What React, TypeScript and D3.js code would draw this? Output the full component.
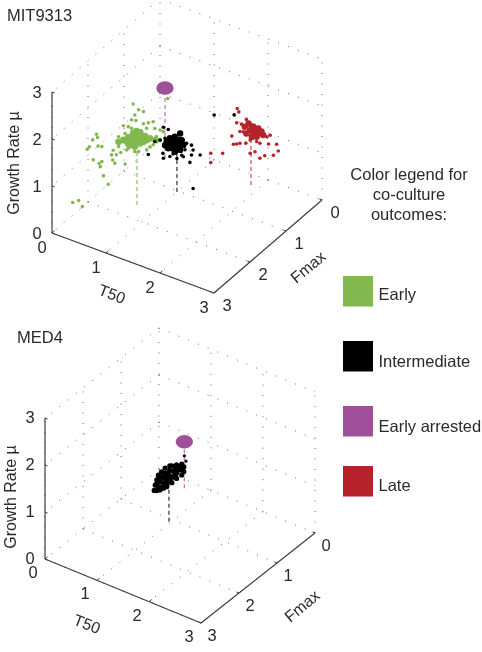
import React from "react";
import * as d3 from "d3";

const ticks = [0, 1, 2, 3];
const legendItems = ["Early", "Intermediate", "Early arrested", "Late"];
const legendColors = ["#82b84e", "#000000", "#a0509a", "#b5222a"];
const legendHeader = ["Color legend for", "co-culture", "outcomes:"];

// [T50, growth rate]; Fmax is listed per group
const earlyFarFmax = 2.5;
const earlyFar = [[.05,.34],[.16,.43],[.23,.33],[.71,1.01],[.62,1.15],[.32,1.59],[.36,1.66],[.49,1.98],[.51,1.92],[.42,1.83],[.52,1.74],[.59,1.76],[.43,1.41],[.54,1.38],[.59,1.44],[.56,1.32],[.79,1.56],[.83,1.51],[1.02,1.57],[.77,1.66],[.86,1.70]];
const earlyFmax = 1.66;
const earlyNear = [[.38,.99],[.49,1.09],[.34,1.10],[.37,1.22],[.34,1.31],[.43,1.58],[.52,1.60],[.61,2.12],[.71,2.04],[.64,1.90],[.80,2.04],[.58,1.77],[.66,1.79],[.80,1.78],[.89,1.84],[.98,1.90],[.86,1.71],[1.01,1.77],[1.11,1.78],[1.17,1.77],[1.04,1.61],[1.11,1.57],[.98,1.41],[.92,1.34],[.86,1.25],[.64,1.12],[.71,1.15],[.52,1.14],[.49,1.20],[.46,1.43],[.58,1.59],[.24,.98],[1.25,2.51]];
const earlyCore = [[.34,1.20],[.43,1.28],[.52,1.37],[.61,1.50],[.67,1.57],[.74,1.57],[.83,1.53],[.92,1.52],[1.03,1.53],[.49,1.27],[.58,1.38],[.67,1.45],[.77,1.46],[.86,1.46],[.55,1.22],[.64,1.23],[.74,1.34],[.64,1.33],[.58,1.29],[.71,1.40],[.80,1.40],[.71,1.50]];
const intermediateFmax = 1.03;
const intermediate = [[1.69,1.93],[2.06,2.09],[.47,.57],[.74,.71],[.75,.61],[1.30,.20],[1.43,.97],[1.24,.73],[1.27,.90],[1.15,.96],[1.30,1.02],[1.12,.80],[1.00,.71],[.87,.70],[.59,.90],[.69,.97],[.78,1.05],[.75,1.27],[.84,1.26],[1.27,1.11],[1.18,1.11],[1.09,.82],[.93,.78]];
const intermediateCore = [[.81,.99],[.87,1.09],[.96,1.16],[1.06,1.27],[1.09,1.14],[1.12,1.05],[1.06,.92],[.96,.84],[.84,.86],[.78,.90],[.93,.97],[.87,.98],[.99,1.03],[.93,1.08],[1.03,1.12],[.90,.89],[.99,.92],[1.06,1.02]];
const lateFmax = .255;
const late = [[1.60,1.52],[1.63,1.46],[1.11,.36],[1.11,.16],[1.33,.45],[1.50,.89],[1.53,.73],[1.59,.76],[1.65,.80],[1.76,.85],[1.84,.95],[1.96,.97],[2.02,.96],[2.18,1.01],[2.33,1.07],[2.36,.94],[2.27,.81],[2.11,.73],[2.02,.64],[1.93,.74],[1.84,.67],[2.21,1.21],[2.15,1.15],[1.59,1.21],[1.68,1.22],[1.77,1.36],[1.65,1.05],[1.71,1.07]];
const lateCore = [[1.74,1.19],[1.81,1.29],[1.90,1.26],[1.99,1.26],[2.05,1.22],[2.08,1.16],[1.96,1.07],[1.87,1.03],[1.77,1.06],[1.84,1.16],[1.93,1.17],[1.99,1.16],[1.87,1.25],[1.90,1.12]];
const med4Fmax = 1.07;
const med4 = [[.69,.54],[.74,.56],[.71,.66],[.77,.66],[.83,.68],[.80,.78],[.87,.77],[.93,.80],[.87,.88],[.93,.89],[.99,.90],[.93,.98],[.99,.98],[1.06,.99],[.99,1.11],[1.06,1.11],[1.12,1.10],[1.09,1.19],[1.15,1.18],[1.22,1.22],[1.03,1.22],[1.12,1.28],[1.22,1.34],[1.26,1.30],[.77,.81],[.80,.60],[.96,1.04],[.90,1.00],[.83,.90],[.93,.73],[.74,.71],[1.19,1.27],[1.09,1.05],[.90,1.11],[.83,1.00],[.77,.90],[.74,.79],[.99,1.20],[1.03,.86],[1.12,.99],[1.22,1.11],[1.26,1.20],[.87,.67]];
const med4Sparse = [[1.30,1.44],[1.27,1.54]];

// [T50, Fmax, growth rate] of the dashed stems
const stemsTop = [[.335,.364,1.49,"#c56fb6"],[.68,1.66,1.17,"#8cc25f"],[1.0,1.03,1.0,"#333333"],[1.855,.255,1.17,"#c9545a"]];
const stemsBottom = [[.63,.196,.99,"#c56fb6"],[.97,1.066,.9,"#333333"]];
const arrestedTop = [.335,.364,1.49];
const arrestedBottom = [.63,.196,.99];

type Geo = { ox: number; oy: number; tx: number; ty: number; fx: number; fy: number; zh: number };
const font = "'Liberation Sans', Arial, sans-serif";
const ink = "#2a2a2a";

function makeProject(g: Geo) {
  const sx = d3.scaleLinear().domain([0, 3]);
  const px = (t: number, f: number) => g.ox + sx.range([0, 3 * g.tx])(t) + sx.range([0, 3 * g.fx])(f);
  const pz = d3.scaleLinear().domain([0, 3]).range([0, 3 * g.zh]);
  const py = (t: number, f: number, z: number) =>
    g.oy + sx.range([0, 3 * g.ty])(t) + sx.range([0, 3 * g.fy])(f) - pz(z);
  return (t: number, f: number, z: number): [number, number] => [px(t, f), py(t, f, z)];
}

function Panel({ geo, title, titleX, titleY, zOff, tOff, fOff, tLabel, fLabel, zLabel, children, stems, arrested }: any) {
  const p = makeProject(geo);
  const line = d3.line();
  const seen = new Set<string>();
  const grid: [number, number][][] = [];
  const add = (a: [number, number], b: [number, number]) => {
    const k = `${a}|${b}`;
    if (!seen.has(k)) { seen.add(k); grid.push([a, b]); }
  };
  for (const v of ticks) {
    add(p(v, 0, 0), p(v, 3, 0));
    add(p(0, v, 0), p(3, v, 0));
    add(p(v, 0, 0), p(v, 0, 3));
    add(p(0, 0, v), p(3, 0, v));
    add(p(0, v, 0), p(0, v, 3));
    add(p(0, 0, v), p(0, 3, v));
  }
  const axes: [number, number][][] = [
    [p(0, 3, 0), p(3, 3, 0)],
    [p(3, 3, 0), p(3, 0, 0)],
    [p(0, 3, 0), p(0, 3, 3)],
  ];
  const textBase = { fontFamily: font, fill: ink, textAnchor: "middle" as const, dominantBaseline: "central" as const };
  return (
    <g>
      <text x={titleX} y={titleY} fontFamily={font} fill={ink} fontSize={16.5} dominantBaseline="central">{title}</text>
      {grid.map((l, i) => (
        <path key={i} d={line(l) || ""} fill="none" stroke="#6a6a6a" strokeWidth={1} strokeDasharray="1 9.5" />
      ))}
      {axes.map((l, i) => (
        <path key={i} d={line(l) || ""} fill="none" stroke="#3d3d3d" strokeWidth={1.2} />
      ))}
      {ticks.map((v) => {
        const a = p(v, 3, 0), b = p(3, v, 0), c = p(0, 3, v);
        const a2 = p(v, 3 - 0.07, 0), b2 = p(3 - 0.05, v, 0), c2 = p(0.05, 3, v);
        return (
          <g key={v}>
            <path d={line([a, a2]) || ""} stroke="#3d3d3d" strokeWidth={1} />
            <path d={line([b, b2]) || ""} stroke="#3d3d3d" strokeWidth={1} />
            <path d={line([c, c2]) || ""} stroke="#3d3d3d" strokeWidth={1} />
            <text {...textBase} fontSize={16.5} x={a[0] + tOff[0]} y={a[1] + tOff[1]}>{v}</text>
            <text {...textBase} fontSize={16.5} x={b[0] + fOff[0]} y={b[1] + fOff[1]}>{v}</text>
            <text {...textBase} fontSize={16.5} x={c[0] + zOff[0]} y={c[1] + zOff[1]}>{v}</text>
          </g>
        );
      })}
      <text {...textBase} fontSize={16} transform={`translate(${zLabel[0]},${zLabel[1]}) rotate(-90)`}>Growth Rate µ</text>
      <text {...textBase} fontSize={16} transform={`translate(${tLabel[0]},${tLabel[1]}) rotate(21)`}>T50</text>
      <text {...textBase} fontSize={16} transform={`translate(${fLabel[0]},${fLabel[1]}) rotate(-40)`}>Fmax</text>
      {stems.map((s: any, i: number) => (
        <path key={i} d={line([p(s[0], s[1], 0), p(s[0], s[1], s[2])]) || ""} fill="none" stroke={s[3]} strokeWidth={1.2} strokeDasharray="4 3" />
      ))}
      {children(p)}
      {(() => {
        const c = p(arrested[0], arrested[1], arrested[2]);
        return <ellipse cx={c[0]} cy={c[1]} rx={8.7} ry={6.8} fill="#a0509a" />;
      })()}
    </g>
  );
}

function Dots({ p, data, fmax, color, r }: any) {
  return (
    <g fill={color}>
      {data.map((d: number[], i: number) => {
        const c = p(d[0], fmax, d[1]);
        return <circle key={i} cx={c[0]} cy={c[1]} r={r} />;
      })}
    </g>
  );
}

export default function App() {
  const swatchTops = [276, 341, 406, 466];
  return (
    <svg width={482} height={652} style={{ position: "absolute", left: 0, top: 0, background: "#fff" }}>
      <defs>
        <filter id="soft" x="0" y="0" width="100%" height="100%">
          <feGaussianBlur stdDeviation="0.4" />
        </filter>
      </defs>
      <g filter="url(#soft)">
        <Panel
          geo={{ ox: 160, oy: 140, tx: 54, ty: 20, fx: -36, fy: 31, zh: 47 }}
          title="MIT9313" titleX={7} titleY={15}
          zOff={[-15, 0]} tOff={[-10, 14]} fOff={[13, 12]}
          tLabel={[112, 294]} fLabel={[308, 267]} zLabel={[13, 163]}
          stems={stemsTop} arrested={arrestedTop}
        >
          {(p: any) => (
            <g>
              <Dots p={p} data={earlyFar} fmax={earlyFarFmax} color={legendColors[0]} r={1.8} />
              <Dots p={p} data={earlyNear} fmax={earlyFmax} color={legendColors[0]} r={1.8} />
              <Dots p={p} data={earlyCore} fmax={earlyFmax} color={legendColors[0]} r={3.4} />
              <Dots p={p} data={late} fmax={lateFmax} color={legendColors[3]} r={1.8} />
              <Dots p={p} data={lateCore} fmax={lateFmax} color={legendColors[3]} r={3.2} />
              <Dots p={p} data={intermediate} fmax={intermediateFmax} color={legendColors[1]} r={1.8} />
              <Dots p={p} data={intermediateCore} fmax={intermediateFmax} color={legendColors[1]} r={3.2} />
            </g>
          )}
        </Panel>
        <Panel
          geo={{ ox: 159, oy: 469, tx: 52, ty: 21.33, fx: -38, fy: 30, zh: 47 }}
          title="MED4" titleX={17} titleY={337}
          zOff={[-15, -1]} tOff={[-12, 13]} fOff={[11, 12]}
          tLabel={[87, 624]} fLabel={[302, 606]} zLabel={[10, 497]}
          stems={stemsBottom} arrested={arrestedBottom}
        >
          {(p: any) => (
            <g>
              <Dots p={p} data={med4} fmax={med4Fmax} color={legendColors[1]} r={2.6} />
              <Dots p={p} data={med4Sparse} fmax={med4Fmax} color={legendColors[1]} r={1.6} />
            </g>
          )}
        </Panel>
        {legendHeader.map((t, i) => (
          <text key={t} x={409} y={174 + i * 20} fontFamily={font} fontSize={16.5} fill={ink} textAnchor="middle" dominantBaseline="central">{t}</text>
        ))}
        {legendItems.map((t, i) => (
          <g key={t}>
            <rect x={343} y={swatchTops[i]} width={30} height={30.5} fill={legendColors[i]} />
            <text x={378.5} y={swatchTops[i] + [18, 20, 20, 19][i]} fontFamily={font} fontSize={16.5} fill={ink} dominantBaseline="central">{t}</text>
          </g>
        ))}
      </g>
    </svg>
  );
}
